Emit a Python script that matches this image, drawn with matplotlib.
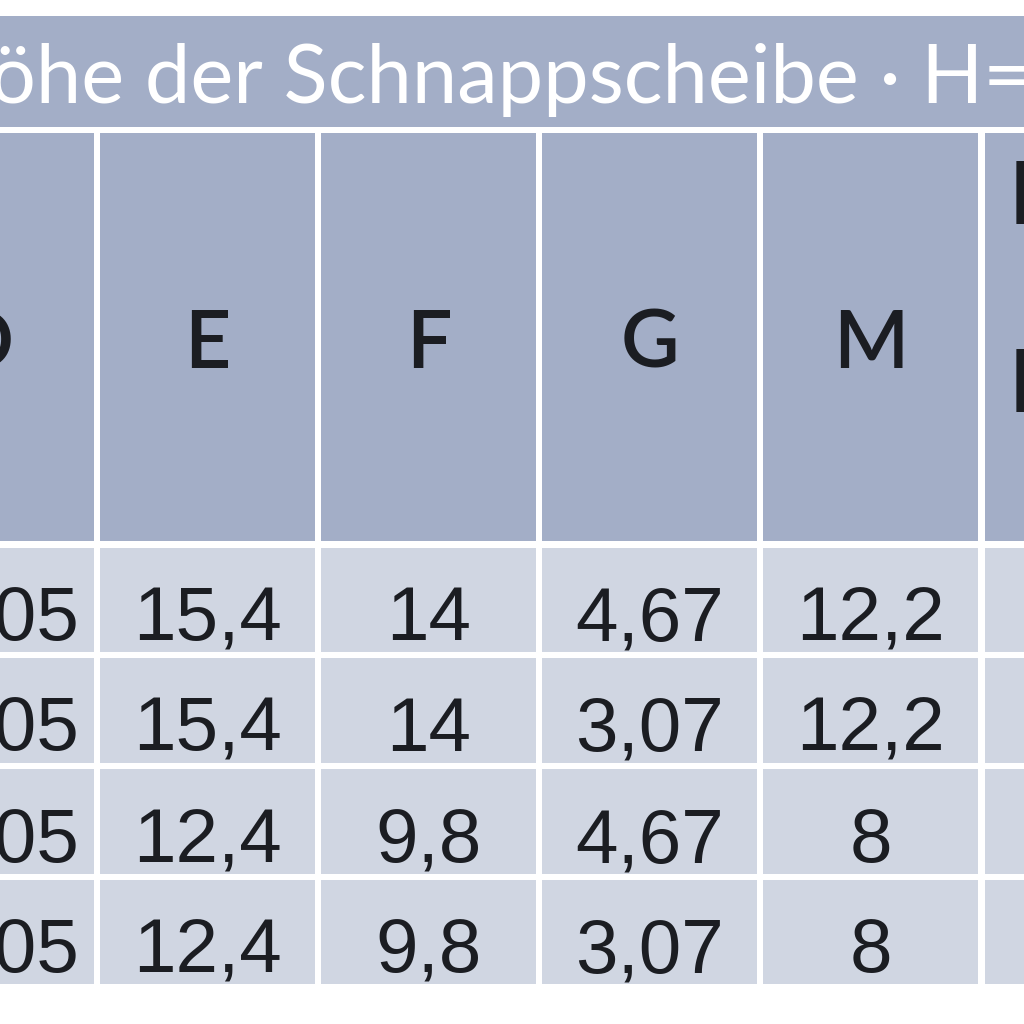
import matplotlib.pyplot as plt
from matplotlib.patches import Rectangle

# table content (cropped view of a larger table)
title = "Höhe der Schnappscheibe · H="
headers = ["D", "E", "F", "G", "M", ""]
extra_header = ["E", "F"]   # two-line header of the cut-off last column
col0 = ["0,05", "0,05", "0,05", "0,05"]
col_E = ["15,4", "15,4", "12,4", "12,4"]
col_F = ["14", "14", "9,8", "9,8"]
col_G = ["4,67", "3,07", "4,67", "3,07"]
col_M = ["12,2", "12,2", "8", "8"]
col_last = ["", "", "", ""]

# layout in pixels
band_col = "#a3aec7"
head_col = "#a3aec7"
cell_col = "#d0d6e2"
txt_col = "#1b1d22"
col_x = [(-121, 94), (100, 315), (321, 536), (542, 757), (763, 978), (985, 1200)]
head_y = (133, 541)
row_y = [(548, 652), (658, 763), (769, 874), (880, 984)]

fig = plt.figure(figsize=(10.24, 10.24), dpi=100)
ax = fig.add_axes([0, 0, 1, 1])
ax.set_xlim(0, 1024)
ax.set_ylim(1024, 0)
ax.axis("off")

num_font = ["Liberation Sans", "DejaVu Sans"]
head_font = ["Lato", "DejaVu Sans"]
title_font = ["Lato", "DejaVu Sans"]

# title band
ax.add_patch(Rectangle((-10, 16), 1050, 111, color=band_col, lw=0))
ax.text(-72, 103, title, color="white", fontsize=58.5, family=title_font,
        ha="left", va="baseline")

# header cells
for (x0, x1), h in zip(col_x, headers):
    ax.add_patch(Rectangle((x0, head_y[0]), x1 - x0, head_y[1] - head_y[0],
                           color=head_col, lw=0))
    if h:
        cx = (x0 + x1) / 2
        if h == "D":
            cx = -17
        ax.text(cx, 368, h, color=txt_col, fontsize=58, family=head_font,
                weight=600, ha="center", va="baseline")
for lbl, yb in zip(extra_header, [224, 412]):
    ax.text(1009, yb, lbl, color=txt_col, fontsize=62, family=head_font,
            weight=600, ha="left", va="baseline")

# data cells
columns = [col0, col_E, col_F, col_G, col_M, col_last]
for ci, ((x0, x1), vals) in enumerate(zip(col_x, columns)):
    for (y0, y1), v in zip(row_y, vals):
        ax.add_patch(Rectangle((x0, y0), x1 - x0, y1 - y0, color=cell_col, lw=0))
        if v:
            if ci == 0:
                ax.text(79, y1 - 12, v, color=txt_col, fontsize=55,
                        family=num_font, ha="right", va="baseline")
            else:
                ax.text((x0 + x1) / 2, y1 - 12, v, color=txt_col, fontsize=55,
                        family=num_font, ha="center", va="baseline")

fig.savefig("out.png", dpi=100, facecolor="white")
